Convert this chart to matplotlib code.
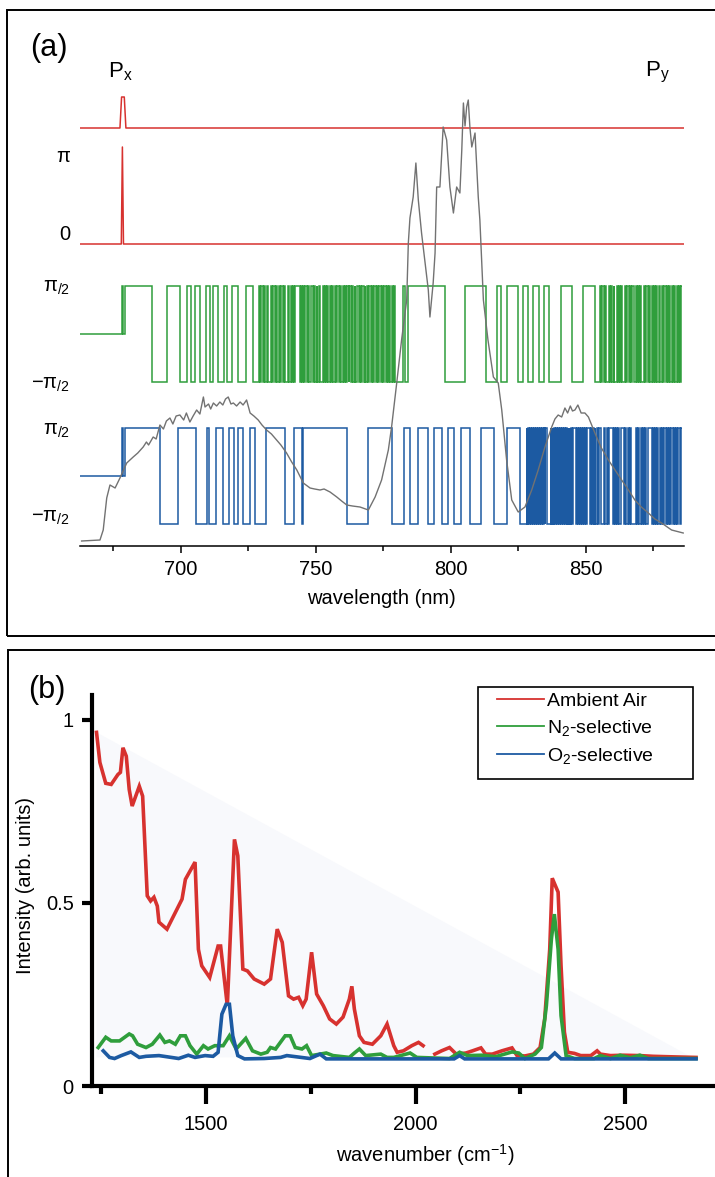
import matplotlib
matplotlib.use("Agg")
import matplotlib.pyplot as plt
import numpy as np
from matplotlib.lines import Line2D
from matplotlib.patches import Rectangle

plt.rcParams['font.family'] = ['Liberation Sans', 'DejaVu Sans']
plt.rcParams['mathtext.fontset'] = 'custom'
plt.rcParams['mathtext.rm'] = 'Liberation Sans'
plt.rcParams['mathtext.it'] = 'Liberation Sans:italic'
plt.rcParams['mathtext.default'] = 'regular'

# ---------------- panel (a) data ----------------
wl_min, wl_max = 662.6, 886.3

# Px pulse (0/1) and pi phase spike
px_nm = [662.6, 677.4, 678.0, 679.0, 679.6, 886.3]
px_val = [0, 0, 1, 1, 0, 0]
phase_nm = [662.6, 677.9, 678.3, 678.7, 886.3]
phase_val = [0, 0, np.pi, 0, 0]

# square waves: level in units of pi/2, flips alternate +1 / -1 starting at +1
green_pre_edges = [662.6, 678.0, 678.4, 679.26]
green_pre_levels = [0, 1, 0]
green_flips = [689.15, 694.70, 699.63, 702.41, 703.70, 705.19, 707.22, 709.44, 710.74, 712.04,
               713.89, 716.11, 717.04, 718.89, 721.30, 724.26, 726.67,
               728.9, 729.4, 729.8, 730.5, 730.9, 731.2, 731.9, 732.3, 733.4, 733.7,
               734.1, 734.9, 735.2, 735.6, 736.4, 736.8, 737.1, 737.9, 738.3, 738.7,
               739.8, 740.1, 740.6, 741.0, 741.6, 742.0, 742.3, 743.9, 744.3, 744.7,
               745.2, 745.5, 746.1, 746.5, 747.2, 747.5, 748.0, 748.8, 749.1, 749.5,
               750.2, 750.5, 751.0, 751.4, 752.5, 752.8, 753.2, 753.6, 754.1, 754.5,
               755.3, 755.6, 756.0, 756.4, 757.0, 757.3, 757.9, 758.6, 759.0, 759.3,
               759.9, 760.3, 760.7, 761.2, 761.6, 762.1, 762.4, 763.0, 763.4, 763.8,
               764.3, 764.6, 765.1, 765.9, 766.2, 766.6, 767.0, 767.6, 768.0, 768.3,
               768.9, 769.3, 769.7, 770.3, 770.6, 771.1, 771.5, 772.2, 772.5, 773.0,
               773.4, 773.9, 774.3, 774.7, 775.2, 775.8, 776.2, 776.6, 777.1, 777.5,
               778.0, 778.4, 778.9, 779.3,
               782.2, 783.0, 784.2, 797.8, 805.2, 812.9, 816.9, 818.5, 820.6, 824.8,
               826.8, 828.4, 830.5, 832.6, 834.6, 836.4, 840.7, 844.7, 849.0, 853.3,
               855.2, 855.6, 856.0, 856.8, 857.1, 857.5, 858.4, 858.8, 859.1, 859.6,
               860.2, 860.5, 861.4, 861.8, 862.1, 862.5, 863.0, 863.4, 864.6, 865.0,
               865.3, 865.9, 866.3, 866.6, 867.2, 867.6, 868.4, 868.8, 869.1, 869.5,
               870.0, 870.4, 871.6, 872.0, 872.3, 872.9, 873.3, 873.7, 874.4, 874.8,
               875.1, 875.6, 876.0, 876.4, 877.0, 877.4, 878.3, 878.7, 879.0, 879.5,
               879.9, 880.3, 880.9, 881.3, 881.7, 882.2, 882.6, 883.0, 883.6, 884.0,
               884.3, 884.9, 885.3]
green_end = 885.6

blue_pre_edges = [662.6, 678.1, 678.5, 679.26]
blue_pre_levels = [0, 1, 0]
blue_flips = [692.22, 699.0, 705.56, 709.5, 710.5, 713.0, 715.7, 717.9, 719.6, 721.2,
              723.1, 725.6, 727.4, 731.5, 738.5, 742.0, 744.7, 745.1, 761.4, 769.4,
              778.0, 782.5, 784.8, 787.6, 791.5, 793.7, 796.7, 798.9, 801.2, 803.7,
              807.0, 811.1, 816.0, 820.6, 825.6,
              828.0, 828.3, 828.7, 829.0, 829.4, 829.7, 830.1, 830.4, 830.9, 831.2,
              831.5, 831.9, 832.2, 832.6, 832.9, 833.3, 833.6, 834.0, 834.3, 834.7,
              835.0, 835.4, 836.9, 837.2, 837.6, 837.9, 838.3, 838.6, 839.0, 839.3,
              839.7, 840.0, 840.4, 840.7, 841.1, 841.4, 841.8, 842.1, 842.5, 842.8,
              843.2, 843.5, 843.9, 844.2, 844.6, 844.9, 845.3, 846.4, 846.8, 847.1,
              847.5, 847.8, 848.2, 848.5, 848.9, 849.2, 849.6, 849.9, 850.3, 851.4,
              851.8, 852.1, 852.5, 852.8, 853.2, 853.5, 853.9, 854.6, 855.0, 855.4,
              856.8, 857.2, 857.6, 858.0, 858.4, 859.9, 860.3, 860.7, 861.1, 861.5,
              862.0, 862.4, 862.8, 864.1, 864.5, 864.9, 865.4, 865.8, 866.3, 866.7,
              868.6, 869.0, 869.4, 869.8, 870.2, 870.7, 871.1, 871.5, 872.0, 872.4,
              872.8, 874.3, 874.7, 875.1, 875.6, 876.0, 876.4, 876.8, 877.3, 877.7,
              878.1, 878.6, 879.0, 879.5, 879.9, 880.3, 880.8, 881.2, 881.6, 882.1,
              882.5, 882.9, 883.4, 883.8, 884.2, 884.7, 885.1]
blue_end = 885.6

# transmitted spectrum (grey), arbitrary units
spec_nm = [663.2, 670.0, 671.2, 672.5, 673.7, 675.6, 677.4, 679.9, 682.3, 684.0,
           686.0, 687.2, 688.0, 689.7, 690.8, 692.2, 693.5, 694.6, 695.9, 697.0,
           698.2, 699.6, 701.0, 702.0, 703.3, 704.5, 705.8, 707.0, 708.3, 708.9,
           710.2, 711.0, 712.0, 713.2, 714.4, 715.5, 716.5, 717.5, 718.5, 719.4,
           720.6, 721.9, 723.0, 724.3, 725.6, 727.0, 728.6, 730.0, 731.7, 733.5,
           735.4, 737.0, 739.1, 741.0, 742.9, 745.3, 747.8, 749.5, 751.5, 753.0,
           755.2, 757.7, 759.5, 761.4, 763.5, 766.3, 769.4, 771.9, 774.3, 776.8,
           778.0, 779.9, 781.7, 783.6, 784.2, 784.8, 786.0, 787.0, 787.9, 789.1,
           790.4, 791.6, 792.2, 793.4, 794.1, 794.7, 795.9, 797.1, 798.4, 799.6,
           800.9, 802.1, 803.3, 804.0, 804.6, 805.2, 805.8, 806.4, 807.0, 807.7,
           808.9, 810.1, 810.7, 812.0, 813.7, 815.7, 817.5, 818.8, 820.6, 822.5,
           824.9, 827.4, 829.9, 832.3, 834.8, 837.3, 838.5, 839.7, 841.0, 842.2,
           843.2, 844.2, 845.0, 845.9, 847.0, 848.2, 849.6, 850.9, 853.3, 855.5,
           858.3, 860.5, 863.2, 865.5, 868.1, 870.5, 873.1, 875.5, 878.0, 881.7,
           886.0]
spec_int = [0.05, 0.06, 0.16, 0.48, 0.61, 0.58, 0.68, 0.83, 0.89, 0.93,
            0.99, 1.04, 1.01, 1.09, 1.07, 1.21, 1.17, 1.25, 1.28, 1.22,
            1.30, 1.31, 1.26, 1.33, 1.24, 1.30, 1.36, 1.32, 1.49, 1.39,
            1.42, 1.37, 1.43, 1.40, 1.44, 1.41, 1.47, 1.49, 1.42, 1.43,
            1.40, 1.44, 1.41, 1.46, 1.33, 1.30, 1.26, 1.21, 1.16, 1.12,
            1.06, 1.01, 0.93, 0.84, 0.76, 0.63, 0.58, 0.57, 0.56, 0.57,
            0.54, 0.49, 0.45, 0.41, 0.40, 0.39, 0.36, 0.49, 0.66, 0.96,
            1.19, 1.63, 2.06, 2.46, 3.03, 3.28, 3.49, 3.83, 3.46, 3.13,
            2.83, 2.56, 2.29, 2.63, 2.93, 3.59, 3.59, 4.19, 4.06, 3.59,
            3.33, 3.59, 3.53, 3.96, 4.43, 4.20, 4.39, 4.46, 4.19, 3.99,
            4.13, 3.49, 3.26, 2.46, 2.06, 1.69, 1.63, 1.36, 0.86, 0.46,
            0.34, 0.39, 0.56, 0.76, 0.99, 1.19, 1.27, 1.31, 1.29, 1.38,
            1.33, 1.40, 1.35, 1.36, 1.41, 1.33, 1.33, 1.29, 1.13, 0.99,
            0.86, 0.77, 0.66, 0.57, 0.46, 0.39, 0.33, 0.27, 0.23, 0.16,
            0.13]

a_ytick_pos = [3.91, 3.14, 2.61, 1.64, 1.18, 0.31]
a_ytick_lab = ["π", "0", r"$π_{/2}$", r"$-π_{/2}$", r"$π_{/2}$", r"$-π_{/2}$"]

# ---------------- panel (b) data ----------------
air_x = [1239, 1247, 1261, 1274, 1290, 1296, 1302, 1310, 1317, 1324,
         1341, 1349, 1360, 1368, 1376, 1384, 1388, 1407, 1443, 1451,
         1474, 1482, 1490, 1509, 1529, 1535, 1551, 1568, 1576, 1588,
         1599, 1615, 1639, 1654, 1670, 1682, 1697, 1709, 1721, 1731,
         1739, 1752, 1764, 1780, 1795, 1811, 1827, 1842, 1848, 1854,
         1866, 1877, 1897, 1917, 1932, 1948, 1956, 1971, 1991, 2007,
         2018, np.nan, 2046, 2062, 2081, 2097, 2120, 2136, 2156, 2167,
         2183, 2206, 2230, 2242, 2261, 2281, 2297, 2308, 2320, 2326,
         2340, 2347, 2355, 2363, 2379, 2394, 2418, 2433, 2441, 2465,
         2496, 2535, 2567, 2598, 2633, 2669]
air_y = [.965, .883, .826, .823, .850, .856, .923, .900, .809, .764,
         .818, .791, .519, .505, .515, .491, .447, .428, .510, .564,
         .611, .373, .328, .296, .382, .382, .219, .673, .628, .319,
         .314, .292, .278, .292, .428, .392, .246, .237, .242, .219,
         .237, .365, .251, .219, .183, .169, .188, .237, .272, .210,
         .137, .119, .114, .137, .169, .110, .092, .096, .110, .119,
         .110, np.nan, .087, .096, .105, .087, .090, .096, .104, .087,
         .087, .096, .104, .083, .082, .087, .105, .183, .373, .567,
         .529, .328, .147, .092, .089, .083, .083, .096, .087, .083,
         .084, .083, .081, .080, .079, .078]

n2_x = [1243, 1261, 1274, 1294, 1317, 1325, 1337, 1357, 1372, 1390,
        1402, 1413, 1427, 1439, 1451, 1462, 1478, 1494, 1505, 1521,
        1541, 1556, 1572, 1595, 1611, 1631, 1646, 1654, 1666, 1689,
        1701, 1713, 1729, 1740, 1752, 1787, 1803, 1842, 1854, 1866,
        1881, 1917, 1932, 1948, 1987, 2003, 2081, 2105, 2124, 2159,
        2191, 2230, 2246, 2261, 2285, 2300, 2312, 2324, 2331, 2340,
        2347, 2359, 2379, 2426, 2441, 2465, 2488, 2512, 2535, 2555,
        2669]
n2_y = [.105, .133, .123, .123, .142, .137, .114, .105, .114, .139,
        .119, .123, .114, .137, .137, .110, .087, .110, .101, .110,
        .110, .137, .101, .130, .096, .087, .092, .105, .101, .137,
        .137, .105, .101, .110, .083, .090, .083, .078, .090, .101,
        .083, .087, .078, .078, .090, .078, .075, .092, .083, .084,
        .080, .093, .090, .075, .087, .105, .219, .401, .469, .373,
        .192, .083, .075, .075, .083, .075, .084, .077, .084, .075,
        .075]

o2_x = [1255, 1270, 1282, 1298, 1321, 1341, 1357, 1388, 1435, 1458,
        1474, 1498, 1517, 1529, 1538, 1548, 1556, 1564, 1576, 1592,
        1639, 1678, 1693, 1748, 1772, 1787, 2092, 2105, 2117, 2317,
        2332, 2347, 2669]
o2_y = [.096, .078, .075, .083, .093, .078, .081, .083, .075, .084,
        .078, .083, .081, .092, .196, .223, .223, .137, .083, .074,
        .075, .078, .083, .075, .087, .074, .074, .083, .074, .074,
        .090, .074, .074]

legend_labels = ["Ambient Air", r"$N_2$-selective", r"$O_2$-selective"]

RED = '#d7322f'
GREEN = '#2f9e3c'
BLUE = '#1c5aa2'
GREY = '#727272'
FS = 14.5

W, H = 715.0, 1177.0
fig = plt.figure(figsize=(W / 100, H / 100), dpi=100)

def fx(px):
    return px / W

def fy(py):
    return 1 - py / H

# frames around the two panels
fig.patches.append(Rectangle((fx(7), fy(636)), 1.1, (636 - 10) / H, fill=False,
                             lw=1.4, ec='black', transform=fig.transFigure))
fig.patches.append(Rectangle((fx(8), -0.1), 1.1, fy(650) + 0.1, fill=False,
                             lw=1.4, ec='black', transform=fig.transFigure))

# ---------------- panel (a) ----------------
ax1 = fig.add_axes([fx(80), fy(546), (684 - 80) / W, (546 - 60) / H])


def wave(pre_edges, pre_levels, flips, x_end):
    edges = np.array(pre_edges + flips + [x_end], float)
    levels = np.array(pre_levels + [(-1) ** i for i in range(len(flips) + 1)], float)
    return edges, levels


ax1.plot(px_nm, 4.18 + 0.31 * np.array(px_val), color=RED, lw=1.1)
ax1.plot(phase_nm, 3.02 + 0.97 * np.array(phase_val) / np.pi, color=RED, lw=1.1)

e, l = wave(green_pre_edges, green_pre_levels, green_flips, green_end)
ax1.stairs(2.12 + 0.48 * l, e, baseline=None, color=GREEN, lw=1.1)
e, l = wave(blue_pre_edges, blue_pre_levels, blue_flips, blue_end)
ax1.stairs(0.70 + 0.48 * l, e, baseline=None, color=BLUE, lw=1.1)

ax1.plot(spec_nm, spec_int, color=GREY, lw=1.0, zorder=3)

ax1.set_xlim(wl_min, wl_max)
ax1.set_ylim(0, 4.86)
for s in ['left', 'top', 'right']:
    ax1.spines[s].set_visible(False)
ax1.spines['bottom'].set_linewidth(1.1)
ax1.set_xticks([700, 750, 800, 850])
ax1.set_xticks([675, 725, 775, 825, 875], minor=True)
ax1.tick_params(axis='x', which='major', length=5, width=1.1, labelsize=FS, pad=5)
ax1.tick_params(axis='x', which='minor', length=3.5, width=1.1)
ax1.set_yticks(a_ytick_pos, a_ytick_lab)
ax1.tick_params(axis='y', length=0, labelsize=FS, pad=7)
ax1.text(673.0, 4.74, r"$P_x$", fontsize=16, va='center', ha='left')
ax1.text(871.9, 4.74, r"$P_y$", fontsize=16, va='center', ha='left')

fig.text(fx(381), fy(598), "wavelength (nm)", fontsize=FS, ha='center', va='center')
fig.text(fx(49), fy(48), "(a)", fontsize=22, ha='center', va='center')

# ---------------- panel (b) ----------------
ax2 = fig.add_axes([fx(91.7), fy(1086), (730 - 91.7) / W, (1086 - 695) / H])
ax2.fill([1239, 2660, 1239], [0.965, 0.078, 0.078], color='#f8f9fc', lw=0, zorder=0)
ax2.plot(air_x, air_y, color=RED, lw=2.6, solid_joinstyle='miter')
ax2.plot(n2_x, n2_y, color=GREEN, lw=2.6, solid_joinstyle='miter')
ax2.plot(o2_x, o2_y, color=BLUE, lw=2.6, solid_joinstyle='miter')

ax2.set_xlim(1227.5, 2727)
ax2.set_ylim(0, 1.067)
for s in ['top', 'right']:
    ax2.spines[s].set_visible(False)
for s in ['left', 'bottom']:
    ax2.spines[s].set_linewidth(3)
ax2.set_xticks([1500, 2000, 2500])
ax2.set_xticks([1250, 1750, 2250, 2750], minor=True)
ax2.set_yticks([0, 0.5, 1], ["0", "0.5", "1"])
ax2.tick_params(axis='x', which='major', length=13, width=3, labelsize=FS, pad=8)
ax2.tick_params(axis='x', which='minor', length=6, width=3)
ax2.tick_params(axis='y', which='major', length=7, width=3, labelsize=FS, pad=6)

fig.text(fx(425), fy(1155), r"wavenumber (cm$^{-1}$)", fontsize=FS, ha='center', va='center')
fig.text(fx(26), fy(885), "Intensity (arb. units)", fontsize=FS, ha='center', va='center',
         rotation=90)
fig.text(fx(47), fy(690), "(b)", fontsize=22, ha='center', va='center')

handles = [Line2D([], [], color=c, lw=1.3) for c in (RED, GREEN, BLUE)]
fig.legend(handles, legend_labels, loc='upper left', bbox_to_anchor=(fx(496.7), fy(692)),
           frameon=False, fontsize=14, handlelength=2.45, handletextpad=0.16,
           borderpad=0, borderaxespad=0, labelspacing=0.42)
fig.patches.append(Rectangle((fx(477.7), fy(779.3)), 215.6 / W, 92.6 / H, fill=False,
                             lw=1.2, ec='black', transform=fig.transFigure))

fig.savefig("out.png", dpi=100)
